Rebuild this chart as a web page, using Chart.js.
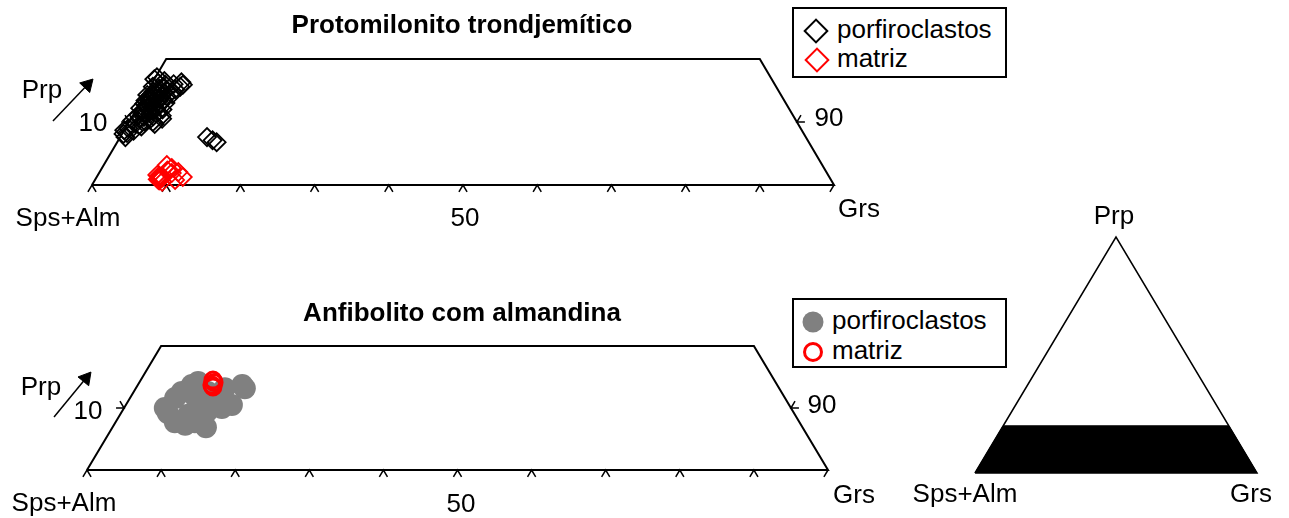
<!DOCTYPE html>
<html>
<head>
<meta charset="utf-8">
<script src="https://cdn.jsdelivr.net/npm/chart.js@4.4.1/dist/chart.umd.min.js"></script>
<style>
body { margin: 0; background: #fff; width: 1289px; height: 518px; overflow: hidden; position: relative;
       font-family: "Liberation Sans", Arial, sans-serif; color: #000; }
canvas { position: absolute; }
.t { position: absolute; font-size: 26px; line-height: 26px; white-space: nowrap; }
.c { transform: translate(-50%, -50%); }
.b { font-weight: bold; }
.box { position: absolute; border: 2px solid #000; box-sizing: border-box; background: #fff; }
.dia { position: absolute; width: 14px; height: 14px; border: 2px solid #000; transform: translate(-50%, -50%) rotate(45deg); }
.dot { position: absolute; width: 21px; height: 21px; border-radius: 50%; background: #808080; transform: translate(-50%, -50%); }
.ring { position: absolute; width: 14px; height: 14px; border-radius: 50%; border: 3px solid #ff0000; transform: translate(-50%, -50%); }
</style>
</head>
<body>
<canvas id="top" width="900" height="250" style="left:0;top:0;width:900px;height:250px"></canvas>
<canvas id="bottom" width="900" height="258" style="left:0;top:260px;width:900px;height:258px"></canvas>
<canvas id="tri" width="349" height="318" style="left:940px;top:200px;width:349px;height:318px"></canvas>
<div id="labels"></div>

<script>
"use strict";

// Composições [Prp, Grs] (%)
const porfTop = [[8.1,0.2],[7.6,0.7],[8.6,1.3],[9.0,0.4],[9.3,2.0],[9.7,3.6],[10.5,4.2],[9.8,1.0],[10.2,0.3],
  [10.4,2.6],[10.8,1.6],[11.1,0.7],[11.3,2.2],[11.6,3.1],[11.9,1.2],[12.2,0.4],[12.4,2.0],[12.7,1.0],[12.9,2.8],
  [13.2,1.6],[13.4,0.5],[13.6,2.3],[13.9,1.1],[14.1,3.0],[14.3,0.3],[14.5,1.8],[14.8,0.9],[15.0,2.5],[15.3,1.4],
  [15.6,0.4],[15.9,1.9],[16.2,0.8],[16.5,1.5],[16.8,0.0],[17.1,0.2],[16.0,3.0],[11.0,3.9],[12.0,3.5],[10.0,3.2],
  [13.0,3.4],[8.7,0.0],[8.25,0.6],[14.4,3.6],[15.2,3.6],[15.6,4.1],[15.9,4.3],[16.3,3.9],
  [10.6,1.1],[11.4,1.5],[12.1,2.6],[12.6,1.6],[13.1,2.2],[13.7,1.7],[14.2,2.3],[14.6,1.2],[10.9,2.8],[11.8,0.9],
  [12.9,0.6],[13.5,2.9],[14.9,1.6],[9.5,1.6],[10.1,2.1],[15.4,2.1],[11.7,2.0],[12.3,1.3],[13.3,1.1],[14.0,0.7],
  [7.6,11.7],[7.1,12.7],[6.8,13.4]];
const matrizTop = [[1.27,8.5],[3.17,8.5],[2.7,9.4],[2.06,10.6],[1.27,11.6],[0.8,10.8],[1.6,8.0],[0.5,9.2],
  [1.0,8.6],[1.1,8.8],[0.9,8.4],[1.2,8.9],[0.7,8.7],[1.4,8.3],[2.3,9.0],[1.9,9.8],[0.95,8.55],[1.05,8.7],[0.85,8.6]];
const porfBottom = [[10.0,5.5],[11.6,6.1],[12.6,6.5],[13.7,7.3],[14.2,7.9],[12.6,10.0],[13.2,12.0],[13.7,14.1],
  [13.2,14.7],[10.5,14.3],[10.0,13.2],[6.9,12.6],[7.3,9.6],[7.7,8.0],[8.9,9.2],[10.5,9.7],[9.2,6.3],[7.7,10.7],
  [11.6,11.1],[12.0,8.5],[9.5,11.5],[11.0,12.5]];
const matrizBottom = [[14.5,9.75],[13.4,10.3],[13.7,10.0],[14.1,10.1]];

const gridTicks = [0, 10, 20, 30, 40, 50, 60, 70, 80, 90, 100]; // Grs na base
const edgeTick = 10;        // Prp nas arestas laterais
const topLimit = 20;        // Prp máximo do diagrama truncado
const bandLimit = 20;       // faixa preta no triângulo completo
const axisNames = ["Sps+Alm", "Prp", "Grs"];
const tickTexts = ["10", "50", "90"];
const legendNames = ["porfiroclastos", "matriz"];
const titles = ["Protomilonito trondjemítico", "Anfibolito com almandina"];

// ternário -> cartesiano (x = Grs + Prp/2, y = Prp)
function tern(p, g) { return { x: g + p / 2, y: p }; }

function lineSet(points, width, extra) {
  return Object.assign({
    type: "scatter", data: points, showLine: true, borderColor: "#000", borderWidth: width,
    pointRadius: 0, fill: false, clip: false, tension: 0, order: 5
  }, extra || {});
}

function trapezoidSets(arrow, rot) {
  const sets = [];
  sets.push(lineSet([tern(0, 0), tern(topLimit, 0), tern(topLimit, 100 - topLimit), tern(0, 100), tern(0, 0)], 2));
  const dx = 0.55, dy = 1.1, h = 1.08;
  gridTicks.forEach(g => {
    sets.push(lineSet([{ x: g - dx, y: -dy }, { x: g, y: 0 }, { x: g + dx, y: -dy }], 1.5));
  });
  const l = tern(edgeTick, 0), r = tern(edgeTick, 100 - edgeTick);
  sets.push(lineSet([{ x: l.x - h, y: l.y }, l, { x: l.x - dx, y: l.y + dy }], 1.5));
  sets.push(lineSet([{ x: r.x + h, y: r.y }, r, { x: r.x + dx, y: r.y + dy }], 1.5));
  // seta do Prp
  sets.push(lineSet(arrow, 1.5, {
    pointRadius: [0, 8], pointStyle: "triangle", pointRotation: rot,
    pointBackgroundColor: "#000", pointBorderColor: "#000", pointBorderWidth: 1
  }));
  return sets;
}

function pointSet(rows, style) {
  return Object.assign({
    type: "scatter", data: rows.map(r => tern(r[0], r[1])), showLine: false, clip: false
  }, style);
}

function baseOptions(pad, ymax) {
  return {
    responsive: false, animation: false, events: [],
    layout: { padding: pad },
    scales: {
      x: { type: "linear", min: 0, max: 100, display: false },
      y: { type: "linear", min: 0, max: ymax, display: false }
    },
    plugins: { legend: { display: false }, tooltip: { enabled: false } }
  };
}

// Diagrama superior
new Chart(document.getElementById("top"), {
  type: "scatter",
  data: {
    datasets: trapezoidSets([{ x: -5.26, y: 10.16 }, { x: -0.61, y: 15.9 }], 43.6).concat([
      pointSet(porfTop, { order: 2, pointStyle: "rectRot", pointRadius: 9, borderColor: "#000", borderWidth: 1.8, backgroundColor: "rgba(0,0,0,0)" }),
      pointSet(matrizTop, { order: 1, pointStyle: "rectRot", pointRadius: 9, borderColor: "#ff0000", borderWidth: 1.8, backgroundColor: "rgba(0,0,0,0)" })
    ])
  },
  options: baseOptions({ left: 92, right: 66, top: 59, bottom: 65 }, topLimit)
});

// Diagrama inferior
new Chart(document.getElementById("bottom"), {
  type: "scatter",
  data: {
    datasets: trapezoidSets([{ x: -4.45, y: 8.55 }, { x: -0.15, y: 14.8 }], 39.4).concat([
      pointSet(porfBottom, { order: 2, pointStyle: "circle", pointRadius: 11, borderWidth: 0, backgroundColor: "#808080" }),
      pointSet(matrizBottom, { order: 1, pointStyle: "circle", pointRadius: 8, borderColor: "#ff0000", borderWidth: 3, backgroundColor: "rgba(0,0,0,0)" })
    ])
  },
  options: baseOptions({ left: 87, right: 72, top: 86, bottom: 48 }, topLimit)
});

// Triângulo completo com a faixa representada
new Chart(document.getElementById("tri"), {
  type: "scatter",
  data: {
    datasets: [
      lineSet([{ x: 0, y: 0 }, { x: bandLimit / 2, y: bandLimit }, { x: 100 - bandLimit / 2, y: bandLimit }, { x: 100, y: 0 }], 1,
        { fill: "origin", backgroundColor: "#000" }),
      lineSet([{ x: 0, y: 0 }, { x: 50, y: 100 }, { x: 100, y: 0 }, { x: 0, y: 0 }], 1.5)
    ]
  },
  options: baseOptions({ left: 35, right: 32, top: 37, bottom: 45 }, 100)
});

// Textos
const labels = [
  [titles[0], 462, 24, "c b"], [titles[1], 462, 312, "c b"],
  [axisNames[1], 42, 89, "c"], [tickTexts[0], 93, 122, "c"], [tickTexts[2], 829, 117, "c"],
  [axisNames[0], 68, 217, "c"], [tickTexts[1], 465, 217, "c"], [axisNames[2], 859, 208, "c"],
  [axisNames[1], 41, 386, "c"], [tickTexts[0], 88, 410, "c"], [tickTexts[2], 822, 404, "c"],
  [axisNames[0], 64, 502, "c"], [tickTexts[1], 461, 503, "c"], [axisNames[2], 854, 494, "c"],
  [axisNames[1], 1114, 215, "c"], [axisNames[0], 965, 493, "c"], [axisNames[2], 1251, 493, "c"]
];
const holder = document.getElementById("labels");
function add(html) { holder.insertAdjacentHTML("beforeend", html); }
labels.forEach(([txt, x, y, cls]) => {
  add(`<div class="t ${cls}" style="left:${x}px;top:${y}px">${txt}</div>`);
});

// Legendas
add(`<div class="box" style="left:792px;top:7px;width:215px;height:71px"></div>`);
add(`<div class="dia" style="left:816px;top:31px"></div>`);
add(`<div class="dia" style="left:817px;top:60px;border-color:#ff0000"></div>`);
add(`<div class="t" style="left:837px;top:16px">${legendNames[0]}</div>`);
add(`<div class="t" style="left:837px;top:45px">${legendNames[1]}</div>`);

add(`<div class="box" style="left:792px;top:298px;width:215px;height:70px"></div>`);
add(`<div class="dot" style="left:813px;top:322px"></div>`);
add(`<div class="ring" style="left:813px;top:352px"></div>`);
add(`<div class="t" style="left:832px;top:307px">${legendNames[0]}</div>`);
add(`<div class="t" style="left:832px;top:337px">${legendNames[1]}</div>`);
</script>
</body>
</html>
